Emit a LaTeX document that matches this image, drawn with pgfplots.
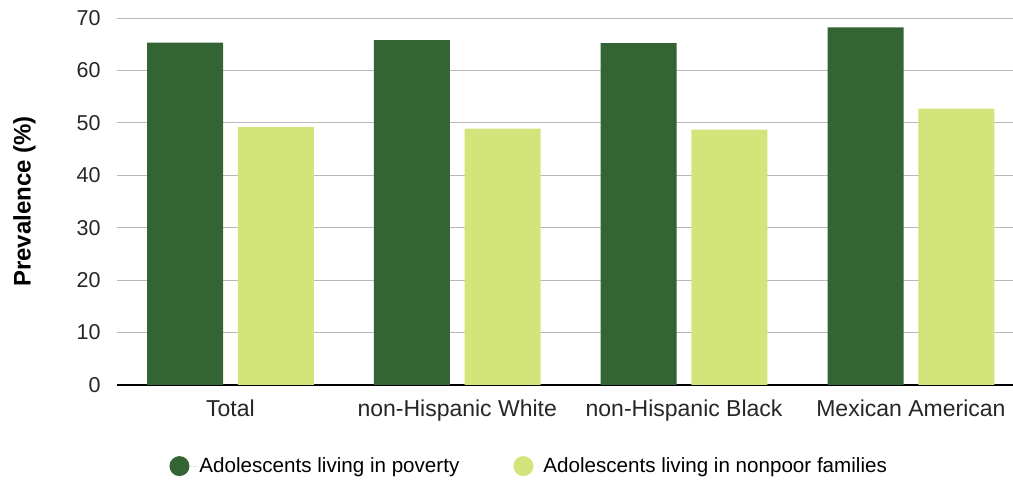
\documentclass[border=0pt]{standalone}
\usepackage{pgfplots}
\pgfplotsset{compat=1.18}
\usepackage{fontspec}
\setmainfont{Liberation Sans}
\definecolor{darkg}{RGB}{52,100,52}
\definecolor{lightg}{RGB}{210,228,122}
\begin{document}
\begin{tikzpicture}
\begin{axis}[
  scale only axis,
  width=896pt, height=367pt,
  ymin=0, ymax=70,
  xmin=-0.5, xmax=3.45,
  ytick={0,10,...,70},
  xtick=data,
  xticklabels={Total, non-Hispanic White, non-Hispanic Black, Mexican American},
  major tick length=0pt,
  axis line style={draw=none},
  ymajorgrids,
  grid style={gray!55, line width=0.8pt},
  extra y ticks={0},
  extra y tick labels={},
  extra y tick style={grid style={black, line width=1.2pt}},
  ybar=0pt,
  bar width=0.335,
  tick label style={text=black!85},
  /pgf/number format/assume math mode=true,
  yticklabel style={font=\fontsize{21.5}{24}\selectfont, xshift=-13pt},
  xticklabel style={font=\fontsize{23}{26}\selectfont, yshift=-11pt},
  ylabel={\bfseries Prevalence (\%)},
  ylabel style={font=\fontsize{24}{28}\selectfont, yshift=34pt},
  legend style={draw=none, at={(0.055,-0.221)}, anchor=west,
    font=\fontsize{20.6}{24}\selectfont, legend columns=2,
    /tikz/every even column/.append style={column sep=52pt}},
  legend image code/.code={\fill[#1, draw=none] (7pt,0pt) circle (10pt); \path (-3pt,0) -- (25pt,0);},
]
\addplot[fill=darkg, draw=none, bar shift=-0.2] coordinates {(0,65.3) (1,65.8) (2,65.2) (3,68.2)};
\addlegendentry{Adolescents living in poverty}
\addplot[fill=lightg, draw=none, bar shift=0.2] coordinates {(0,49.2) (1,48.9) (2,48.7) (3,52.7)};
\addlegendentry{Adolescents living in nonpoor families}
\end{axis}
\pgfresetboundingbox
\path (current axis.south west) ++(-117pt,-96pt) rectangle ++(1013pt,481pt);
\end{tikzpicture}
\end{document}
